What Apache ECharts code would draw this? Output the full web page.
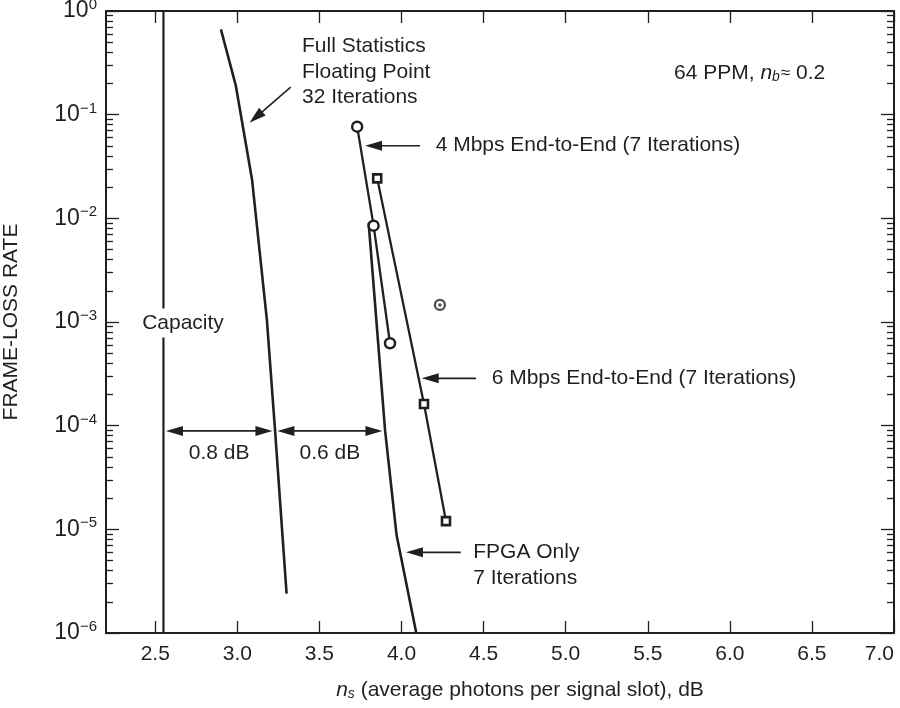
<!DOCTYPE html>
<html><head><meta charset="utf-8">
<script src="https://cdn.jsdelivr.net/npm/echarts@6/dist/echarts.min.js"></script>
<style>html,body{margin:0;padding:0;background:#fff}#c{width:900px;height:708px}</style>
</head><body><div id="c"></div>
<script>
// ---- data ----
const xTicks = [2.5, 3.0, 3.5, 4.0, 4.5, 5.0, 5.5, 6.0, 6.5, 7.0];
const yDecades = [1e-6, 1e-5, 1e-4, 1e-3, 1e-2, 1e-1, 1];
const capacityX = 2.55;
const fullStatsX = [2.90, 2.99, 3.09, 3.18, 3.23, 3.30];
const fullStatsY = [0.665, 0.193, 0.0234, 1.05e-3, 8.9e-5, 2.4e-6];
const fpgaX = [3.83, 3.80, 3.90, 3.97, 4.09];
const fpgaY = [8.6e-3, 9.0e-3, 9.0e-5, 8.8e-6, 1.0e-6];
const mb4X = [3.73, 3.83, 3.93];
const mb4Y = [0.0766, 8.5e-3, 6.24e-4];
const mb4ExtraX = [4.234];
const mb4ExtraY = [1.46e-3];
const mb6X = [3.852, 4.137, 4.271];
const mb6Y = [0.0243, 1.62e-4, 1.2e-5];
const gapFrom = [2.55, 3.229];
const gapTo = [3.229, 3.899];
const gapY = 8.9e-5;
const gapLabels = ['0.8 dB', '0.6 dB'];

const font = "'Liberation Sans', Arial, Helvetica, sans-serif";
const ink = '#231f20';
const zip = (xs, ys) => xs.map((x, i) => [x, ys[i]]);
const majorExp = yDecades.map(v => Math.log10(v));
const minorExp = [];
for (let d = -6; d < 0; d++) for (let m = 2; m < 10; m++) minorExp.push(d + Math.log10(m));

const tickStyle = {color: ink, width: 1.3};
const auxY = (pos, ticks, len, line) => ({
  type: 'value', min: -6, max: 0, position: pos,
  axisLine: {show: line, onZero: false, lineStyle: {color: ink, width: 2}},
  axisTick: {show: true, inside: true, length: len, customValues: ticks, lineStyle: tickStyle},
  axisLabel: {show: false}, splitLine: {show: false}
});

const chart = echarts.init(document.getElementById('c'));
chart.setOption({
  animation: false,
  grid: {left: 106, right: 6, top: 11, bottom: 75, outerBoundsMode: 'none'},
  xAxis: [
    {type: 'value', position: 'bottom', min: 2.2, max: 7.0, splitLine: {show: false},
     axisLine: {onZero: false, lineStyle: {color: ink, width: 2}},
     axisTick: {inside: true, length: 12, customValues: xTicks, lineStyle: tickStyle},
     axisLabel: {customValues: xTicks, formatter: v => v.toFixed(1), color: ink, fontSize: 21,
                 fontFamily: font, margin: 11, alignMaxLabel: 'right'}},
    {type: 'value', position: 'top', min: 2.2, max: 7.0, splitLine: {show: false},
     axisLine: {onZero: false, lineStyle: {color: ink, width: 2}},
     axisTick: {inside: true, length: 12, customValues: xTicks, lineStyle: tickStyle},
     axisLabel: {show: false}}
  ],
  yAxis: [
    {type: 'log', logBase: 10, min: 1e-6, max: 1, position: 'left', splitLine: {show: false},
     axisLine: {onZero: false, lineStyle: {color: ink, width: 2}},
     axisTick: {inside: true, length: 13, lineStyle: tickStyle},
     axisLabel: {color: ink, fontSize: 23, fontFamily: font, margin: 9,
       formatter: v => { const e = Math.round(Math.log10(v)); return '10{sup|' + (e < 0 ? '\u2212' + (-e) : e) + '}'; },
       rich: {sup: {fontSize: 15, fontFamily: font, color: ink, padding: [0, 0, 12, 0]}}},
     name: 'FRAME-LOSS RATE', nameLocation: 'middle', nameGap: 84, nameRotate: 90,
     nameTextStyle: {color: ink, fontSize: 21, fontFamily: font}},
    auxY('left', minorExp, 7, false),
    auxY('right', majorExp, 13, true),
    auxY('right', minorExp, 7, false)
  ],
  series: [
    {type: 'line', data: [[capacityX, 1e-6], [capacityX, 1]], symbol: 'none', z: 1,
     lineStyle: {color: ink, width: 2.2}, silent: true},
    {type: 'line', data: zip(fullStatsX, fullStatsY), symbol: 'none', z: 1,
     lineStyle: {color: ink, width: 2.6}, silent: true},
    {type: 'line', data: zip(fpgaX, fpgaY), symbol: 'none', z: 1,
     lineStyle: {color: ink, width: 2.6}, silent: true},
    {type: 'line', data: zip(mb6X, mb6Y), symbol: 'rect', symbolSize: 8, z: 3,
     lineStyle: {color: ink, width: 2.3}, itemStyle: {color: '#fff', borderColor: ink, borderWidth: 2.6}, silent: true},
    {type: 'line', data: zip(mb4X, mb4Y), symbol: 'circle', symbolSize: 10, z: 4,
     lineStyle: {color: ink, width: 2.3}, itemStyle: {color: '#fff', borderColor: ink, borderWidth: 2.5}, silent: true},
    {type: 'scatter', data: zip(mb4ExtraX, mb4ExtraY), symbol: 'circle', symbolSize: 10, z: 4,
     itemStyle: {color: '#fff', borderColor: ink, borderWidth: 2.3}, silent: true},
    {type: 'scatter', data: zip(mb4ExtraX, mb4ExtraY), symbol: 'circle', symbolSize: 3.5, z: 5,
     itemStyle: {color: ink}, silent: true}
  ]
});

// ---- annotations (anchored in data coordinates) ----
const px = (x, y) => chart.convertToPixel({xAxisIndex: 0, yAxisIndex: 0}, [x, y]);
function head(tip, from, len, hw) {
  const dx = tip[0] - from[0], dy = tip[1] - from[1], L = Math.hypot(dx, dy);
  const ux = dx / L, uy = dy / L, bx = tip[0] - ux * len, by = tip[1] - uy * len;
  return {type: 'polygon', silent: true, z: 20,
    shape: {points: [tip, [bx - uy * hw, by + ux * hw], [bx + uy * hw, by - ux * hw]]}, style: {fill: ink}};
}
function seg(a, b, w) {
  return {type: 'line', silent: true, z: 20, shape: {x1: a[0], y1: a[1], x2: b[0], y2: b[1]},
    style: {stroke: ink, lineWidth: w}};
}
function base(tip, from, len) {
  const dx = tip[0] - from[0], dy = tip[1] - from[1], L = Math.hypot(dx, dy);
  return [tip[0] - dx / L * len, tip[1] - dy / L * len];
}
function txt(p, text, align, extra) {
  return {type: 'text', silent: true, z: 20, x: p[0], y: p[1],
    style: Object.assign({text: text, fill: ink, fontSize: 21, fontFamily: font,
      align: align, verticalAlign: 'middle', textAlign: align, textVerticalAlign: 'middle'}, extra || {})};
}
const g = [];
const pointers = [
  {tip: [3.074, 0.0837], tail: [3.325, 0.184]},
  {tip: [3.778, 0.0502], tail: [4.113, 0.0502]},
  {tip: [4.123, 2.86e-4], tail: [4.454, 2.86e-4]},
  {tip: [4.027, 6.0e-6], tail: [4.361, 6.0e-6]}
];
pointers.forEach(a => {
  const t = px(a.tip[0], a.tip[1]), f = px(a.tail[0], a.tail[1]);
  g.push(seg(f, base(t, f, 14), 1.6), head(t, f, 17, 5));
});
gapFrom.forEach((x0, i) => {
  const a = px(x0, gapY), b = px(gapTo[i], gapY);
  const l = [a[0] + 2.5, a[1]], r = [b[0] - 2.5, b[1]];
  g.push(seg(base(l, r, 14), base(r, l, 14), 1.6), head(l, r, 17, 5), head(r, l, 17, 5));
  const m = [(a[0] + b[0]) / 2, a[1] + 22];
  g.push(txt(m, gapLabels[i], 'center'));
});
g.push(txt(px(3.394, 0.459), 'Full Statistics', 'left'));
g.push(txt(px(3.394, 0.258), 'Floating Point', 'left'));
g.push(txt(px(3.394, 0.148), '32 Iterations', 'left'));
g.push(txt(px(4.208, 0.0502), '4 Mbps End-to-End (7 Iterations)', 'left'));
g.push(txt(px(4.549, 2.86e-4), '6 Mbps End-to-End (7 Iterations)', 'left'));
g.push(txt(px(4.437, 6.04e-6), 'FPGA Only', 'left'));
g.push(txt(px(4.437, 3.4e-6), '7 Iterations', 'left'));
g.push(txt(px(2.414, 9.8e-4), 'Capacity', 'left', {backgroundColor: '#fff', padding: [4, 1]}));
g.push(txt(px(5.66, 0.252), '64 PPM, {i|n}{sub|b}{s|\u2248} 0.2', 'left', {
  rich: {i: {fontStyle: 'italic', fontSize: 21, fontFamily: font, fill: ink},
         sub: {fontStyle: 'italic', fontSize: 14, fontFamily: font, fill: ink, padding: [9, 1, 0, 0]},
         s: {fontSize: 17, fontFamily: font, fill: ink}}}));
const bl = px(2.2, 1e-6), tr = px(7.0, 1);
g.push(txt([(bl[0] + tr[0]) / 2 + 20, bl[1] + 57], '{i|n}{sub|s} (average photons per signal slot), dB', 'center', {
  rich: {i: {fontStyle: 'italic', fontSize: 21, fontFamily: font, fill: ink},
         sub: {fontStyle: 'italic', fontSize: 14, fontFamily: font, fill: ink, padding: [9, 0, 0, 0]}}}));
chart.setOption({graphic: {elements: g}});
</script>
</body></html>
